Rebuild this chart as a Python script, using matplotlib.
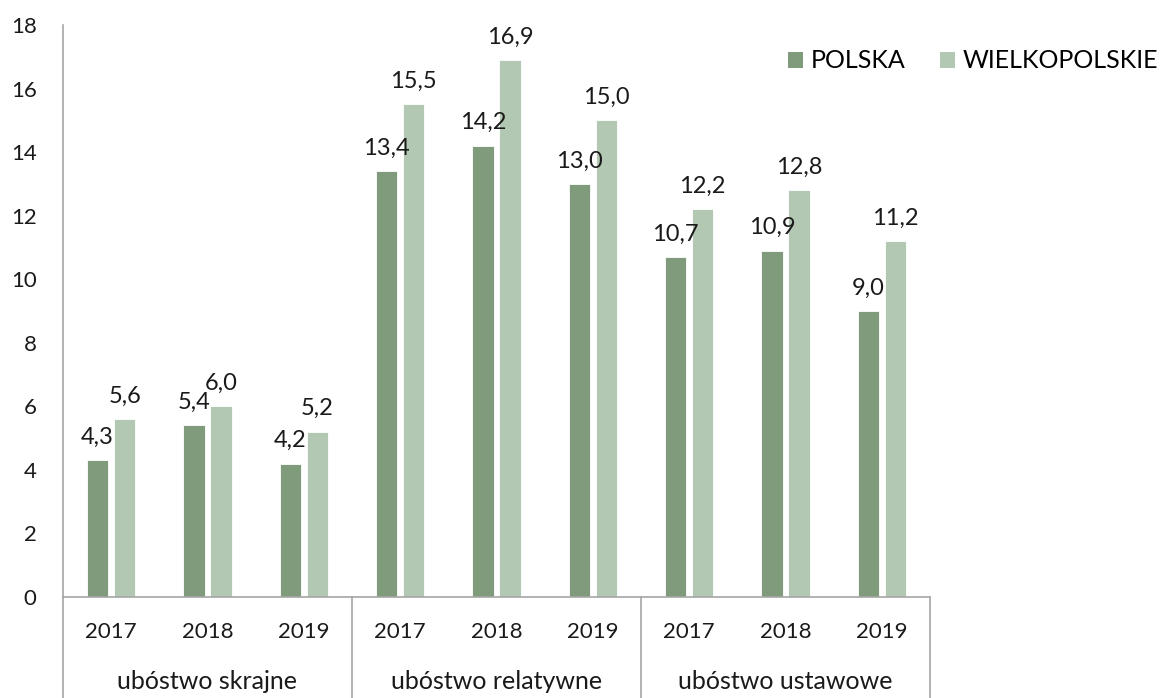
import numpy as np
import matplotlib.pyplot as plt
from matplotlib.patches import Patch

plt.rcParams['font.family'] = ['Lato', 'DejaVu Sans']

lata = ["2017", "2018", "2019"] * 3
grupy = ["ubóstwo skrajne", "ubóstwo relatywne", "ubóstwo ustawowe"]
polska = [4.3, 5.4, 4.2, 13.4, 14.2, 13.0, 10.7, 10.9, 9.0]
wielkopolskie = [5.6, 6.0, 5.2, 15.5, 16.9, 15.0, 12.2, 12.8, 11.2]
seria = ["POLSKA", "WIELKOPOLSKIE"]

kolor_ciemny = "#7f9b7c"
kolor_jasny = "#b2c8b2"
kolor_osi = "#a6a6a6"
kolor_tekstu = "#1a1a1a"
FS_LICZBY = 16
FS_WARTOSCI = 17
FS_TEKST = 18

fig = plt.figure(figsize=(11.61, 6.98), dpi=100)
ax = fig.add_axes([63 / 1161, 1 - 597 / 698, (930 - 63) / 1161, (597 - 25) / 698])

x = np.arange(len(lata))
szer = 0.22
b1 = ax.bar(x - 0.14, polska, szer, color=kolor_ciemny, edgecolor="white", linewidth=0.6)
b2 = ax.bar(x + 0.14, wielkopolskie, szer, color=kolor_jasny, edgecolor="white", linewidth=0.6)

for bars, vals in [(b1, polska), (b2, wielkopolskie)]:
    for b, v in zip(bars, vals):
        ax.annotate(f"{v:.1f}".replace(".", ","), (b.get_x() + b.get_width() / 2, v),
                    xytext=(0, 9), textcoords="offset points",
                    ha="center", va="bottom", fontsize=FS_WARTOSCI, color=kolor_tekstu)

ax.set_xlim(-0.5, len(lata) - 0.5)
ax.set_ylim(0, 18)
ax.set_yticks(range(0, 19, 2))
ax.tick_params(axis="y", length=0, pad=19, labelsize=FS_LICZBY, colors=kolor_tekstu)
ax.set_xticks([])

for s in ["top", "right"]:
    ax.spines[s].set_visible(False)
for s in ["left", "bottom"]:
    ax.spines[s].set_color(kolor_osi)
    ax.spines[s].set_linewidth(1.2)

trans = ax.get_xaxis_transform()
for i, rok in enumerate(lata):
    ax.text(i, -0.061, rok, transform=trans, ha="center", va="center",
            fontsize=FS_LICZBY, color=kolor_tekstu)
for g, nazwa in enumerate(grupy):
    ax.text(g * 3 + 1, -0.147, nazwa, transform=trans, ha="center", va="center",
            fontsize=FS_TEKST, color=kolor_tekstu)
for xs in [-0.5, 2.5, 5.5, 8.5]:
    ax.plot([xs, xs], [0, -0.2], transform=trans, color=kolor_osi, linewidth=1.2, clip_on=False)

uchwyty = [Patch(facecolor=kolor_ciemny), Patch(facecolor=kolor_jasny)]
fig.legend(uchwyty, seria, loc="center left", bbox_to_anchor=(788 / 1161, 1 - 61 / 698),
           ncol=2, frameon=False, fontsize=FS_TEKST, handlelength=0.6, handleheight=0.6,
           handletextpad=0.3, columnspacing=1.4, borderaxespad=0, borderpad=0)

fig.savefig("out.png", dpi=100)
